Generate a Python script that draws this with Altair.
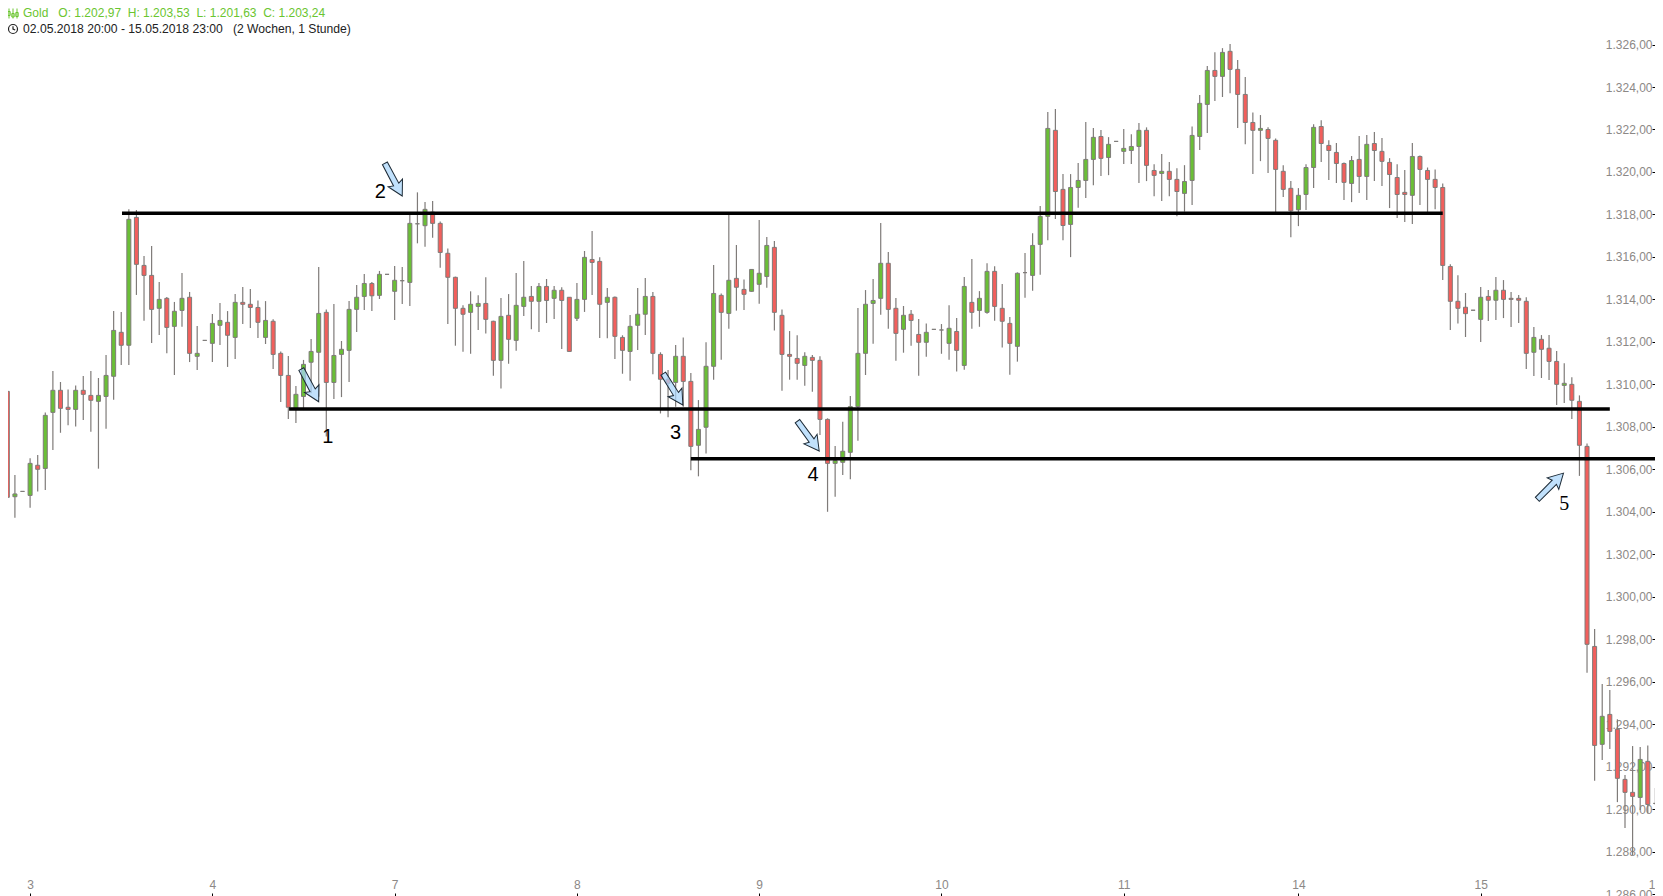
"""Hourly gold candles with support and resistance lines, redrawn in Altair."""

import altair as alt
import pandas as pd

opens = [
    1309.67, 1304.71, 1304.96, 1304.77, 1306.19, 1306.04, 1308.68, 1309.72, 1308.92, 1308.82,
    1309.72, 1309.48, 1309.20, 1309.43, 1310.38, 1312.45, 1311.84, 1317.86, 1315.60, 1315.13,
    1313.58, 1314.05, 1312.73, 1313.48, 1314.10, 1311.32, 1312.07, 1311.93, 1312.78, 1312.92,
    1312.21, 1313.86, 1313.77, 1313.62, 1312.21, 1312.97, 1311.46, 1310.42, 1308.82, 1309.43,
    1311.04, 1311.51, 1313.39, 1310.09, 1311.41, 1311.60, 1313.53, 1314.14, 1314.75, 1314.19,
    1315.18, 1314.38, 1314.88, 1314.80, 1317.56, 1317.47, 1318.11, 1317.58, 1316.17, 1315.04,
    1313.58, 1313.39, 1313.67, 1313.81, 1312.97, 1311.13, 1313.25, 1312.07, 1313.67, 1314.14,
    1313.91, 1314.61, 1314.05, 1314.43, 1314.10, 1313.11, 1314.00, 1315.88, 1315.79, 1313.86,
    1314.10, 1312.21, 1311.55, 1312.78, 1313.30, 1314.14, 1311.41, 1310.24, 1310.09, 1311.32,
    1310.14, 1307.13, 1307.98, 1310.85, 1314.19, 1313.34, 1314.99, 1314.47, 1314.38, 1314.71,
    1315.08, 1316.45, 1313.25, 1311.41, 1311.22, 1310.89, 1311.27, 1311.13, 1308.35, 1306.28,
    1306.33, 1306.80, 1308.95, 1311.46, 1313.81, 1314.05, 1315.70, 1313.58, 1312.59, 1313.30,
    1312.35, 1311.98, 1312.59, 1312.56, 1311.93, 1312.49, 1310.89, 1313.86, 1313.48, 1313.39,
    1315.32, 1313.58, 1312.87, 1311.79, 1315.26, 1315.13, 1316.59, 1317.91, 1321.96, 1319.18,
    1317.53, 1319.27, 1319.60, 1320.59, 1321.67, 1320.68, 1321.44, 1320.97, 1321.01, 1321.20,
    1321.96, 1320.07, 1319.93, 1320.03, 1319.65, 1318.99, 1319.60, 1321.67, 1323.18, 1324.78,
    1324.50, 1325.68, 1324.83, 1323.65, 1322.33, 1321.96, 1322.00, 1321.49, 1320.03, 1319.23,
    1318.22, 1318.94, 1320.21, 1322.14, 1321.25, 1320.92, 1320.40, 1319.46, 1320.59, 1319.79,
    1321.34, 1320.97, 1320.45, 1319.74, 1319.04, 1318.90, 1320.73, 1320.07, 1319.65, 1319.27,
    1315.55, 1313.91, 1313.63, 1313.49, 1313.06, 1314.14, 1313.96, 1314.43, 1314.05, 1314.05,
    1313.91, 1311.51, 1312.12, 1311.70, 1311.08, 1309.95, 1310.00, 1309.20, 1307.08, 1297.66,
    1293.05, 1294.46, 1293.76, 1291.40, 1290.79, 1290.55, 1292.25, 1290.27, 1289.05,
]
highs = [
    1309.76, 1305.73, 1304.96, 1306.52, 1306.67, 1308.68, 1310.63, 1310.11, 1309.76, 1309.95,
    1310.39, 1310.63, 1310.30, 1311.38, 1313.45, 1313.41, 1318.25, 1318.21, 1316.04, 1316.51,
    1314.82, 1314.11, 1313.88, 1315.24, 1314.35, 1312.75, 1312.07, 1313.31, 1313.83, 1313.45,
    1314.25, 1314.58, 1314.49, 1313.95, 1313.92, 1313.06, 1311.55, 1311.33, 1309.92, 1311.15,
    1312.13, 1315.52, 1313.53, 1313.78, 1312.04, 1313.92, 1314.68, 1315.19, 1314.82, 1315.34,
    1315.18, 1315.57, 1315.52, 1318.05, 1319.04, 1318.58, 1318.63, 1317.67, 1316.40, 1315.07,
    1313.72, 1314.38, 1314.19, 1315.04, 1312.99, 1314.06, 1314.25, 1315.24, 1315.81, 1314.63,
    1314.77, 1314.96, 1314.63, 1314.57, 1314.10, 1314.77, 1316.28, 1317.22, 1315.98, 1314.54,
    1314.14, 1312.31, 1313.26, 1314.54, 1315.01, 1314.35, 1311.51, 1310.67, 1311.85, 1312.21,
    1310.53, 1309.26, 1311.98, 1315.62, 1314.28, 1318.00, 1316.56, 1314.94, 1315.41, 1317.74,
    1316.94, 1316.75, 1313.53, 1312.51, 1312.31, 1311.51, 1311.38, 1311.32, 1308.40, 1307.10,
    1308.24, 1309.45, 1313.59, 1314.44, 1314.96, 1317.60, 1316.23, 1314.06, 1313.69, 1313.50,
    1313.08, 1312.87, 1312.59, 1312.84, 1313.73, 1313.12, 1315.05, 1315.90, 1314.39, 1315.70,
    1315.56, 1314.72, 1313.17, 1315.27, 1316.18, 1317.12, 1318.40, 1322.82, 1322.96, 1319.90,
    1319.90, 1320.42, 1322.35, 1322.07, 1321.97, 1321.64, 1321.44, 1322.02, 1321.78, 1322.30,
    1322.10, 1320.36, 1320.84, 1320.47, 1320.18, 1320.32, 1322.14, 1323.62, 1324.99, 1325.64,
    1325.83, 1326.02, 1325.27, 1324.47, 1322.80, 1322.68, 1322.10, 1321.58, 1320.32, 1319.57,
    1319.24, 1320.36, 1322.25, 1322.44, 1321.49, 1321.36, 1320.45, 1320.75, 1321.69, 1321.74,
    1321.88, 1321.60, 1320.65, 1320.36, 1320.09, 1321.36, 1320.78, 1320.21, 1320.12, 1319.46,
    1315.66, 1315.14, 1314.30, 1313.49, 1314.58, 1314.44, 1315.05, 1314.91, 1314.35, 1314.21,
    1314.10, 1312.70, 1312.32, 1312.32, 1311.57, 1310.99, 1310.33, 1309.48, 1307.22, 1298.48,
    1295.89, 1295.61, 1294.23, 1291.61, 1292.97, 1292.92, 1293.00, 1290.99, 1292.94,
]
lows = [
    1303.41, 1303.72, 1304.96, 1304.19, 1304.95, 1305.02, 1306.91, 1307.72, 1308.08, 1308.01,
    1308.32, 1307.77, 1306.03, 1307.91, 1309.28, 1310.91, 1310.91, 1314.21, 1313.00, 1311.95,
    1312.32, 1311.47, 1310.44, 1312.71, 1311.05, 1310.67, 1312.07, 1311.05, 1311.85, 1310.82,
    1311.19, 1312.84, 1312.65, 1312.18, 1311.90, 1310.72, 1309.17, 1308.37, 1308.18, 1308.79,
    1309.58, 1309.42, 1307.54, 1309.31, 1309.40, 1310.11, 1312.46, 1313.50, 1313.45, 1314.02,
    1315.18, 1313.03, 1313.78, 1313.69, 1316.64, 1316.48, 1316.90, 1315.49, 1312.84, 1311.82,
    1311.54, 1311.44, 1312.56, 1312.39, 1310.41, 1309.80, 1310.97, 1311.58, 1313.22, 1312.60,
    1312.46, 1312.89, 1313.08, 1311.66, 1311.55, 1312.98, 1313.41, 1314.21, 1312.18, 1312.17,
    1311.19, 1310.50, 1310.17, 1311.62, 1312.32, 1310.47, 1308.63, 1308.45, 1308.95, 1308.95,
    1305.95, 1305.67, 1306.75, 1310.22, 1311.16, 1312.62, 1313.47, 1313.50, 1314.36, 1313.80,
    1314.55, 1312.53, 1309.70, 1310.22, 1310.22, 1309.94, 1309.65, 1307.61, 1304.00, 1304.71,
    1305.73, 1305.53, 1307.35, 1310.44, 1311.91, 1313.28, 1312.62, 1311.11, 1311.49, 1311.82,
    1310.41, 1311.30, 1312.59, 1311.44, 1311.16, 1310.60, 1310.69, 1312.62, 1312.71, 1313.33,
    1313.00, 1311.73, 1310.45, 1311.07, 1314.08, 1314.41, 1315.16, 1316.79, 1317.78, 1316.79,
    1315.99, 1318.32, 1318.77, 1319.38, 1319.81, 1319.85, 1321.44, 1320.37, 1320.37, 1319.48,
    1319.57, 1318.86, 1318.63, 1318.86, 1317.92, 1318.13, 1318.44, 1321.03, 1321.83, 1323.34,
    1323.53, 1323.71, 1322.07, 1321.31, 1319.90, 1320.51, 1319.95, 1318.05, 1318.82, 1316.93,
    1317.45, 1318.21, 1319.24, 1320.47, 1319.62, 1319.48, 1318.68, 1318.58, 1319.01, 1318.68,
    1319.57, 1319.34, 1318.30, 1317.83, 1317.64, 1317.55, 1318.44, 1318.11, 1318.25, 1314.91,
    1312.56, 1312.87, 1312.23, 1313.49, 1311.99, 1312.98, 1313.03, 1313.12, 1312.70, 1312.89,
    1310.72, 1310.39, 1310.30, 1310.21, 1309.03, 1309.12, 1308.37, 1305.69, 1296.42, 1291.34,
    1292.31, 1292.83, 1290.33, 1289.11, 1287.84, 1289.96, 1289.80, 1290.19, 1288.70,
]
closes = [
    1304.68, 1304.84, 1304.96, 1306.28, 1306.00, 1308.54, 1309.72, 1308.87, 1308.82, 1309.72,
    1309.53, 1309.25, 1309.48, 1310.42, 1312.54, 1311.84, 1317.77, 1315.65, 1315.13, 1313.53,
    1314.00, 1312.68, 1313.44, 1314.05, 1311.46, 1311.46, 1312.07, 1312.87, 1313.01, 1312.31,
    1313.86, 1313.77, 1313.62, 1312.92, 1313.01, 1311.41, 1310.42, 1308.92, 1309.53, 1310.94,
    1311.55, 1313.34, 1310.09, 1311.36, 1311.65, 1313.53, 1314.10, 1314.75, 1314.17, 1315.18,
    1315.18, 1314.90, 1314.88, 1317.58, 1317.56, 1318.24, 1317.58, 1316.21, 1315.04, 1313.58,
    1313.30, 1313.77, 1313.81, 1313.06, 1311.13, 1313.20, 1312.12, 1313.72, 1314.10, 1313.91,
    1314.61, 1313.95, 1314.43, 1313.95, 1311.55, 1314.00, 1315.98, 1315.74, 1313.77, 1314.10,
    1312.26, 1311.60, 1312.73, 1313.30, 1314.14, 1311.46, 1310.24, 1310.05, 1311.32, 1310.14,
    1307.08, 1307.88, 1310.85, 1314.28, 1313.39, 1314.90, 1314.57, 1314.24, 1315.41, 1315.23,
    1316.54, 1313.39, 1311.41, 1311.32, 1310.99, 1311.32, 1311.13, 1308.35, 1306.28, 1306.41,
    1306.85, 1308.95, 1311.46, 1313.77, 1313.95, 1315.70, 1313.53, 1312.40, 1313.25, 1313.01,
    1311.98, 1312.45, 1312.59, 1312.56, 1312.64, 1311.60, 1314.61, 1313.39, 1314.05, 1315.32,
    1313.67, 1312.97, 1311.93, 1315.23, 1315.26, 1316.54, 1317.91, 1322.05, 1319.08, 1317.48,
    1319.27, 1319.60, 1320.59, 1321.63, 1320.64, 1321.30, 1321.44, 1321.11, 1321.20, 1321.96,
    1320.31, 1319.84, 1320.03, 1319.65, 1319.08, 1319.55, 1321.72, 1323.23, 1324.78, 1324.50,
    1325.63, 1324.83, 1323.65, 1322.33, 1321.96, 1322.05, 1321.58, 1320.12, 1319.18, 1318.17,
    1318.90, 1320.21, 1322.10, 1321.34, 1321.01, 1320.40, 1319.51, 1320.54, 1319.79, 1321.30,
    1321.01, 1320.50, 1319.88, 1318.94, 1318.94, 1320.73, 1320.12, 1319.65, 1319.27, 1315.60,
    1313.91, 1313.58, 1313.33, 1313.49, 1314.10, 1313.96, 1314.43, 1314.00, 1314.00, 1313.96,
    1311.46, 1312.21, 1311.65, 1311.08, 1310.00, 1310.05, 1309.25, 1307.13, 1297.76, 1293.00,
    1294.37, 1293.66, 1291.45, 1290.79, 1290.60, 1292.34, 1290.22, 1290.27, 1292.44,
]

price_ticks = list(range(1286, 1330, 2))
# the last day starts right at the edge of the picture
day_ticks = [3, 27, 51, 75, 99, 123, 147, 170, 194, 216.95]
day_labels = ["3", "4", "7", "8", "9", "10", "11", "14", "15", "16"]

# support and resistance lines: first bar, last bar, price at both ends
line_from = [15.1, 37.1, 90.0]
line_to = [189.0, 211.0, 218.0]
line_price = [1318.06, 1308.84, 1306.50]

arrow_bar = [41.0, 52.0, 88.95, 106.9, 204.9]
arrow_price = [1309.18, 1318.87, 1309.03, 1306.86, 1305.82]
arrow_angle = [332, 332, 328, 324, 225]

note_text = ["1", "2", "3", "4", "5"]
note_bar = [42.2, 49.1, 88.0, 106.1, 205.0]
note_price = [1307.52, 1319.04, 1307.70, 1305.75, 1304.37]

quote_line = "Gold\u00a0\u00a0\u00a0O: 1.202,97\u00a0\u00a0H: 1.203,53\u00a0\u00a0L: 1.201,63\u00a0\u00a0C: 1.203,24"
range_line = "02.05.2018 20:00 - 15.05.2018 23:00\u00a0\u00a0\u00a0(2 Wochen, 1 Stunde)"

# tip of the arrow sits on the data point, the tail points up before rotating
ARROW = "M0,0 L-0.22,-0.40 L-0.08,-0.35 L-0.075,-1 L0.075,-1 L0.08,-0.35 L0.22,-0.40 Z"
BARS_ICON = (
    "M-0.4,-0.5 L-0.4,0.5 M-0.52,-0.2 L-0.28,-0.2 L-0.28,0.2 L-0.52,0.2 Z "
    "M0,-0.5 L0,0.5 M-0.12,0 L0.12,0 L0.12,0.35 L-0.12,0.35 Z "
    "M0.4,-0.5 L0.4,0.5 M0.28,-0.1 L0.52,-0.1 L0.52,0.3 L0.28,0.3 Z"
)
CLOCK_ICON = (
    "M-0.45,0 A0.45,0.45 0 1,1 0.45,0 A0.45,0.45 0 1,1 -0.45,0 "
    "M0,-0.28 L0,0 L0.22,0.1"
)

WIDTH = 1647
HEIGHT = 888
UP = "#6abf36"
DOWN = "#f25f5c"
EDGE = "#7f7b79"
FONT = "Liberation Sans"

candles = pd.DataFrame({"open": opens, "high": highs, "low": lows, "close": closes})
candles["bar"] = candles.index
candles["top"] = candles[["open", "close"]].max(axis=1)
candles["bottom"] = candles[["open", "close"]].min(axis=1)
candles["side"] = "flat"
candles.loc[candles["close"] > candles["open"], "side"] = "up"
candles.loc[candles["close"] < candles["open"], "side"] = "down"

lines = pd.DataFrame({"start": line_from, "end": line_to, "price": line_price})
arrows = pd.DataFrame({"bar": arrow_bar, "price": arrow_price, "angle": arrow_angle})
notes = pd.DataFrame({"bar": note_bar, "price": note_price, "label": note_text})

x_scale = alt.Scale(domain=[0.09, 216.95], nice=False, zero=False, padding=0)
y_scale = alt.Scale(domain=[1285.91, 1327.72], nice=False, zero=False, padding=0)

# both axes sit inside the plot, like the charting tool draws them
x_axis = alt.Axis(
    orient="top",
    offset=-HEIGHT,
    values=day_ticks,
    labelExpr=f"{day_labels}[indexof({day_ticks}, datum.value)]",
    grid=False,
    domain=False,
    tickColor="#000000",
    tickSize=3,
    labelColor="#8c8886",
    labelFont=FONT,
    labelFontSize=12,
    labelPadding=2,
    labelOverlap=False,
    labelFlush=False,
    title=None,
)
y_axis = alt.Axis(
    orient="left",
    offset=-WIDTH,
    values=price_ticks,
    labelExpr="replace(replace(replace(format(datum.value, ',.2f'), ',', ' '), '.', ','), ' ', '.')",
    grid=False,
    domain=False,
    tickColor="#000000",
    tickSize=3,
    labelColor="#8c8886",
    labelFont=FONT,
    labelFontSize=12,
    labelPadding=0,
    labelOverlap=False,
    labelFlush=False,
    title=None,
)


def bar_x(field):
    return alt.X(field, scale=x_scale, axis=x_axis)


def price_y(field):
    return alt.Y(field, scale=y_scale, axis=y_axis)


wicks = alt.Chart(candles).mark_rule(color=EDGE, strokeWidth=1.2).encode(
    x=bar_x("bar:Q"),
    y=price_y("high:Q"),
    y2="low:Q",
)

bodies = alt.Chart(candles).mark_bar(size=4, stroke=EDGE, strokeWidth=1).encode(
    x=bar_x("bar:Q"),
    y=price_y("top:Q"),
    y2="bottom:Q",
    color=alt.Color(
        "side:N",
        scale=alt.Scale(domain=["up", "down", "flat"], range=[UP, DOWN, EDGE]),
        legend=None,
    ),
)

levels = alt.Chart(lines).mark_rule(color="#000000", strokeWidth=3.5).encode(
    x=bar_x("start:Q"),
    x2="end:Q",
    y=price_y("price:Q"),
)

pointers = alt.Chart(arrows).mark_point(
    shape=ARROW,
    size=5476,
    filled=True,
    fill="#a9d6fb",
    fillOpacity=0.72,
    stroke="#1c2a36",
    strokeWidth=1,
    strokeOpacity=1,
).encode(
    x=bar_x("bar:Q"),
    y=price_y("price:Q"),
    angle=alt.Angle("angle:Q", scale=None),
)

# the last number is set in a serif face in the original
numbers = alt.Chart(notes[notes["label"] != "5"]).mark_text(
    fontSize=20, font=FONT, color="#000000", align="center", baseline="middle"
).encode(
    x=bar_x("bar:Q"),
    y=price_y("price:Q"),
    text="label:N",
)
last_number = alt.Chart(notes[notes["label"] == "5"]).mark_text(
    fontSize=20, font="Liberation Serif", color="#000000", align="center", baseline="middle"
).encode(
    x=bar_x("bar:Q"),
    y=price_y("price:Q"),
    text="label:N",
)

header_top = alt.Chart(pd.DataFrame({"text": [quote_line]})).mark_text(
    align="left", baseline="middle", font=FONT, fontSize=12, color="#6ac52f"
).encode(x=alt.value(15), y=alt.value(5), text="text:N")

header_bottom = alt.Chart(pd.DataFrame({"text": [range_line]})).mark_text(
    align="left", baseline="middle", font=FONT, fontSize=12.15, color="#222222"
).encode(x=alt.value(15), y=alt.value(21), text="text:N")

bars_icon = alt.Chart(pd.DataFrame({"icon": [0]})).mark_point(
    shape=BARS_ICON, size=400, filled=False, stroke="#6ac52f", strokeWidth=1, opacity=1
).encode(x=alt.value(5), y=alt.value(5.5))

clock_icon = alt.Chart(pd.DataFrame({"icon": [0]})).mark_point(
    shape=CLOCK_ICON, size=400, filled=False, stroke="#222222", strokeWidth=1.2, opacity=1
).encode(x=alt.value(5), y=alt.value(21))

chart = alt.layer(
    wicks, bodies, levels, pointers, numbers, last_number,
    header_top, header_bottom, bars_icon, clock_icon,
).properties(
    width=WIDTH,
    height=HEIGHT,
    padding=0,
    autosize=alt.AutoSizeParams(type="none"),
).configure_view(stroke=None)

chart.save("out.html", embed_options={"renderer": "svg", "actions": False})
